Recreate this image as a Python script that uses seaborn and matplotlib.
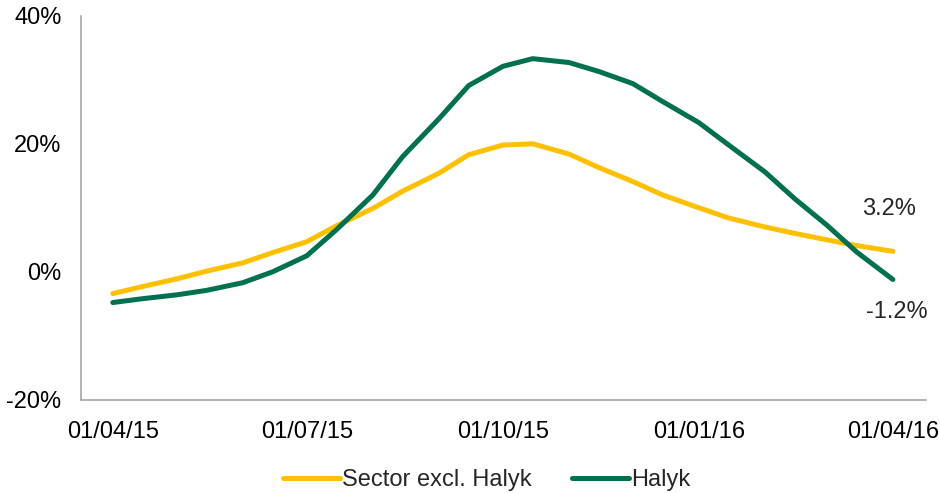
import pandas as pd
import numpy as np
import matplotlib.pyplot as plt
import matplotlib.dates as mdates
from matplotlib.ticker import FuncFormatter
import seaborn as sns

# semi-monthly points (Apr 2015 - Apr 2016)
dates = pd.date_range("2015-04-01", "2016-04-01", freq="SMS")
sector = [-3.4, -2.3, -1.1, 0.1, 1.4, 3.0, 4.7, 7.2, 9.9, 12.6, 15.4, 18.3, 19.8,
          20.0, 18.4, 16.3, 14.1, 12.0, 10.0, 8.4, 7.0, 6.0, 5.0, 4.1, 3.2]
halyk = [-4.8, -4.2, -3.6, -2.9, -1.7, 0.0, 2.5, 6.6, 12.0, 18.0, 23.9, 29.1, 32.1,
         33.3, 32.7, 31.3, 29.4, 26.6, 23.3, 19.8, 15.6, 11.4, 7.3, 3.1, -1.2]
series_names = ["Sector excl. Halyk", "Halyk"]
colors = ["#FFC000", "#00704F"]
tick_dates = pd.to_datetime(["2015-04-01", "2015-07-01", "2015-10-01", "2016-01-01", "2016-04-01"])

df = pd.concat([
    pd.DataFrame({"date": dates, "value": sector, "series": series_names[0]}),
    pd.DataFrame({"date": dates, "value": halyk, "series": series_names[1]}),
])

sns.set_style("white")
plt.rcParams["font.family"] = ["Liberation Sans", "DejaVu Sans"]

fig = plt.figure(figsize=(9.4, 4.93), dpi=100)
ax = fig.add_axes([0.086, 0.189, 0.899, 0.779])

sns.lineplot(data=df, x="date", y="value", hue="series", hue_order=series_names,
             palette=colors, linewidth=3.6, ax=ax, legend=False,
             solid_capstyle="round", solid_joinstyle="round")

ax.set_xlim(pd.Timestamp("2015-04-01") - pd.Timedelta(days=15),
            pd.Timestamp("2016-04-01") + pd.Timedelta(days=15.5))
ax.set_ylim(-20, 40)
ax.set_yticks([-20, 0, 20, 40])
ax.yaxis.set_major_formatter(FuncFormatter(lambda v, p: f"{v:.0f}%"))
ax.set_xticks(tick_dates)
ax.xaxis.set_major_formatter(mdates.DateFormatter("%d/%m/%y"))
ax.tick_params(axis="both", length=0, labelsize=17, colors="black")
ax.tick_params(axis="y", pad=14)
ax.tick_params(axis="x", pad=15.5)
ax.set_xlabel("")
ax.set_ylabel("")

sns.despine(ax=ax)
for s in ["left", "bottom"]:
    ax.spines[s].set_color("#A6A6A6")
    ax.spines[s].set_linewidth(1.2)

# end labels
ax.annotate("3.2%", (dates[-1], sector[-1]), xytext=(-3, 30.5), textcoords="offset points",
            ha="center", va="center", fontsize=17)
ax.annotate("-1.2%", (dates[-1], halyk[-1]), xytext=(3, -23.5), textcoords="offset points",
            ha="center", va="center", fontsize=17)

handles = [plt.Line2D([], [], color=c, linewidth=3.6, solid_capstyle="round") for c in colors]
fig.legend(handles, series_names, loc="lower center", bbox_to_anchor=(0.518, -0.04),
           ncol=2, frameon=False, fontsize=17, handlelength=2.4, handletextpad=0.1,
           columnspacing=1.7)

fig.savefig("out.png", dpi=100)
